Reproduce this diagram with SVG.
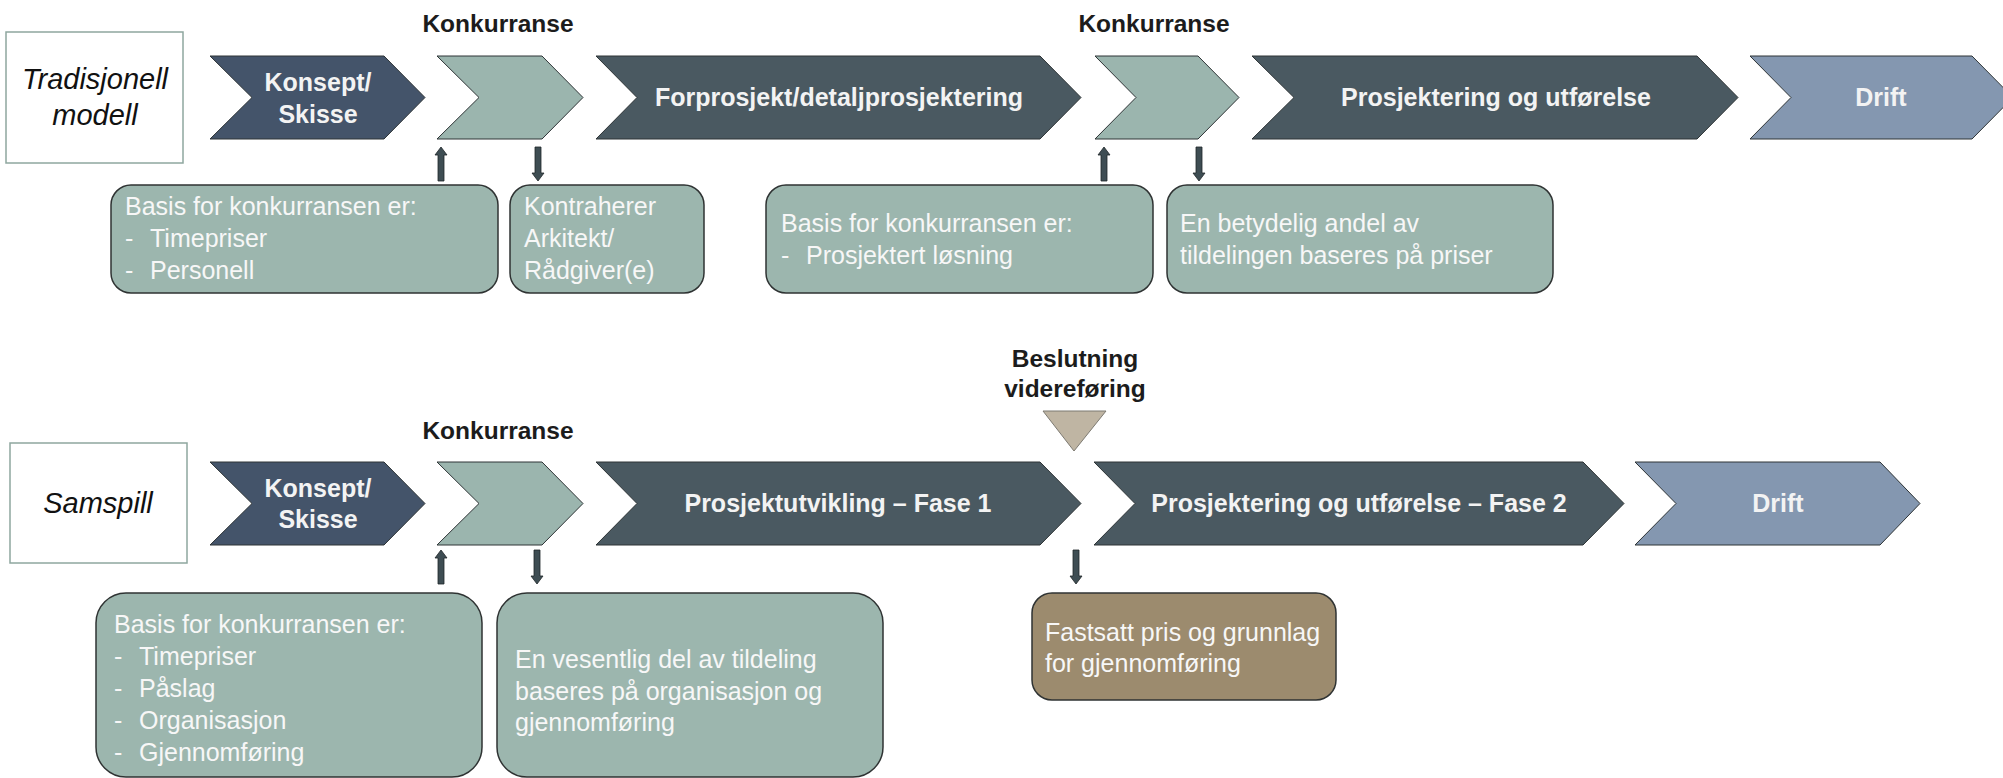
<svg xmlns="http://www.w3.org/2000/svg" width="2003" height="778" viewBox="0 0 2003 778">
  <style>
    .bg { fill: #ffffff; }
    .model { fill: #ffffff; stroke: #8ea79f; stroke-width: 1.5; }
    .model-txt { font-family: "Liberation Sans", Arial, sans-serif; font-style: italic; font-size: 29px; fill: #111111; text-anchor: middle; }
    .chev { stroke: #2e3436; stroke-width: 1; stroke-linejoin: miter; }
    .c-blue { fill: #44546a; }
    .c-sage { fill: #9bb5ae; }
    .c-dark { fill: #4a5961; }
    .c-drift { fill: #8497b0; }
    .chev-txt { font-family: "Liberation Sans", Arial, sans-serif; font-weight: bold; font-size: 25px; fill: #f3f3f3; text-anchor: middle; }
    .head-txt { font-family: "Liberation Sans", Arial, sans-serif; font-weight: bold; font-size: 24.5px; fill: #1c1c1c; text-anchor: middle; }
    .note { fill: #9cb6ae; stroke: #2f3333; stroke-width: 1.5; }
    .note-brown { fill: #9c8b6e; stroke: #2f3333; stroke-width: 1.5; }
    .note-txt { font-family: "Liberation Sans", Arial, sans-serif; font-size: 25px; fill: #f7f7f7; }
    .gate { fill: #bfb5a3; stroke: #7d7a72; stroke-width: 1; }
    .arrow { fill: #3e4d53; stroke: #1f2628; stroke-width: 0.8; }
  </style>

  <defs>
    <!-- small block arrow pointing up, origin at tip -->
    <path id="arrow-up" d="M0,0 L6,8 L3,8 L3,34 L-3,34 L-3,8 L-6,8 Z"/>
    <!-- small block arrow pointing down, origin at tip -->
    <path id="arrow-down" d="M0,0 L6,-8 L3,-8 L3,-34 L-3,-34 L-3,-8 L-6,-8 Z"/>
  </defs>

  <rect class="bg" x="0" y="0" width="2003" height="778"/>

  <!-- ===== Traditional model row ===== -->
  <g id="model-tradisjonell">
    <rect class="model" x="6" y="32" width="177" height="131"/>
    <text class="model-txt" x="95" y="89">Tradisjonell</text>
    <text class="model-txt" x="95" y="125">modell</text>
  </g>

  <g id="t-konsept">
    <polygon class="chev c-blue" points="210,56 384,56 425,97.5 384,139 210,139 252,97.5"/>
    <text class="chev-txt" x="318" y="91">Konsept/</text>
    <text class="chev-txt" x="318" y="123">Skisse</text>
  </g>

  <g id="t-konkurranse-1">
    <text class="head-txt" x="498" y="32">Konkurranse</text>
    <polygon class="chev c-sage" points="437,56 542,56 583,97.5 542,139 437,139 479,97.5"/>
  </g>

  <g id="t-forprosjekt">
    <polygon class="chev c-dark" points="596,56 1040,56 1081,97.5 1040,139 596,139 637,97.5"/>
    <text class="chev-txt" x="839" y="106">Forprosjekt/detaljprosjektering</text>
  </g>

  <g id="t-konkurranse-2">
    <text class="head-txt" x="1154" y="32">Konkurranse</text>
    <polygon class="chev c-sage" points="1095,56 1198,56 1239,97.5 1198,139 1095,139 1136,97.5"/>
  </g>

  <g id="t-prosjektering">
    <polygon class="chev c-dark" points="1252,56 1697,56 1738,97.5 1697,139 1252,139 1294,97.5"/>
    <text class="chev-txt" x="1496" y="106">Prosjektering og utførelse</text>
  </g>

  <g id="t-drift">
    <polygon class="chev c-drift" points="1750,56 1972,56 2013,97.5 1972,139 1750,139 1791,97.5"/>
    <text class="chev-txt" x="1881" y="106">Drift</text>
  </g>

  <g id="t-note-basis">
    <rect class="note" x="111" y="185" width="387" height="108" rx="20" ry="20"/>
    <text class="note-txt" x="125" y="215">Basis for konkurransen er:</text>
    <text class="note-txt" x="125" y="247">-</text>
    <text class="note-txt" x="150" y="247">Timepriser</text>
    <text class="note-txt" x="125" y="279">-</text>
    <text class="note-txt" x="150" y="279">Personell</text>
  </g>

  <g id="t-note-kontraherer">
    <rect class="note" x="510" y="185" width="194" height="108" rx="20" ry="20"/>
    <text class="note-txt" x="524" y="215">Kontraherer</text>
    <text class="note-txt" x="524" y="247">Arkitekt/</text>
    <text class="note-txt" x="524" y="279">Rådgiver(e)</text>
  </g>

  <g id="t-note-prosjektert">
    <rect class="note" x="766" y="185" width="387" height="108" rx="20" ry="20"/>
    <text class="note-txt" x="781" y="232">Basis for konkurransen er:</text>
    <text class="note-txt" x="781" y="264">-</text>
    <text class="note-txt" x="806" y="264">Prosjektert løsning</text>
  </g>

  <g id="t-note-priser">
    <rect class="note" x="1167" y="185" width="386" height="108" rx="20" ry="20"/>
    <text class="note-txt" x="1180" y="232">En betydelig andel av</text>
    <text class="note-txt" x="1180" y="264">tildelingen baseres på priser</text>
  </g>

  <!-- ===== Collaboration model row ===== -->
  <g id="model-samspill">
    <rect class="model" x="10" y="443" width="177" height="120"/>
    <text class="model-txt" x="98" y="513">Samspill</text>
  </g>

  <g id="s-konsept">
    <polygon class="chev c-blue" points="210,462 384,462 425,503.5 384,545 210,545 252,503.5"/>
    <text class="chev-txt" x="318" y="497">Konsept/</text>
    <text class="chev-txt" x="318" y="528">Skisse</text>
  </g>

  <g id="s-konkurranse">
    <text class="head-txt" x="498" y="439">Konkurranse</text>
    <polygon class="chev c-sage" points="437,462 542,462 583,503.5 542,545 437,545 479,503.5"/>
  </g>

  <g id="s-fase1">
    <polygon class="chev c-dark" points="596,462 1040,462 1081,503.5 1040,545 596,545 637,503.5"/>
    <text class="chev-txt" x="838" y="512">Prosjektutvikling – Fase 1</text>
  </g>

  <g id="s-beslutning">
    <text class="head-txt" x="1075" y="367">Beslutning</text>
    <text class="head-txt" x="1075" y="397">videreføring</text>
    <polygon class="gate" points="1043,411 1106,411 1074,451"/>
  </g>

  <g id="s-fase2">
    <polygon class="chev c-dark" points="1094,462 1583,462 1624,503.5 1583,545 1094,545 1135,503.5"/>
    <text class="chev-txt" x="1359" y="512">Prosjektering og utførelse – Fase 2</text>
  </g>

  <g id="s-drift">
    <polygon class="chev c-drift" points="1635,462 1880,462 1920,503.5 1880,545 1635,545 1676,503.5"/>
    <text class="chev-txt" x="1778" y="512">Drift</text>
  </g>

  <g id="s-note-basis">
    <rect class="note" x="96" y="593" width="386" height="184" rx="30" ry="30"/>
    <text class="note-txt" x="114" y="633">Basis for konkurransen er:</text>
    <text class="note-txt" x="114" y="665">-</text>
    <text class="note-txt" x="139" y="665">Timepriser</text>
    <text class="note-txt" x="114" y="697">-</text>
    <text class="note-txt" x="139" y="697">Påslag</text>
    <text class="note-txt" x="114" y="729">-</text>
    <text class="note-txt" x="139" y="729">Organisasjon</text>
    <text class="note-txt" x="114" y="761">-</text>
    <text class="note-txt" x="139" y="761">Gjennomføring</text>
  </g>

  <g id="s-note-organisasjon">
    <rect class="note" x="497" y="593" width="386" height="184" rx="30" ry="30"/>
    <text class="note-txt" x="515" y="668">En vesentlig del av tildeling</text>
    <text class="note-txt" x="515" y="700">baseres på organisasjon og</text>
    <text class="note-txt" x="515" y="731">gjennomføring</text>
  </g>

  <g id="s-note-fastsatt">
    <rect class="note-brown" x="1032" y="593" width="304" height="107" rx="20" ry="20"/>
    <text class="note-txt" x="1045" y="641">Fastsatt pris og grunnlag</text>
    <text class="note-txt" x="1045" y="672">for gjennomføring</text>
  </g>

  <!-- ===== Connectors ===== -->
  <g id="connectors">
    <use href="#arrow-up" class="arrow" x="441" y="147"/>
    <use href="#arrow-down" class="arrow" x="538" y="181"/>
    <use href="#arrow-up" class="arrow" x="1104" y="147"/>
    <use href="#arrow-down" class="arrow" x="1199" y="181"/>
    <use href="#arrow-up" class="arrow" x="441" y="550"/>
    <use href="#arrow-down" class="arrow" x="537" y="584"/>
    <use href="#arrow-down" class="arrow" x="1076" y="584"/>
  </g>
</svg>
